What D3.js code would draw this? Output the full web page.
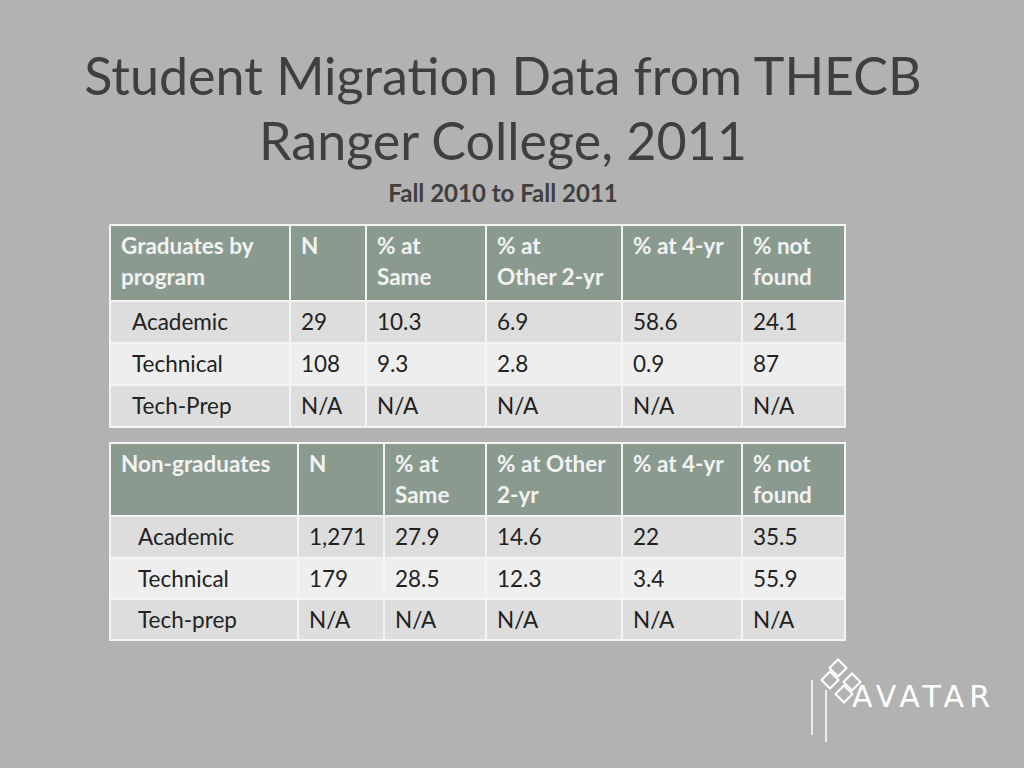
<!DOCTYPE html>
<html><head><meta charset="utf-8">
<script src="https://d3js.org/d3.v7.min.js"></script>
<style>body{margin:0;background:#b2b2b2;}svg{display:block;}</style>
</head><body>
<script>
const titleLines = ["Student Migration Data from THECB", "Ranger College, 2011"];
const subtitle = "Fall 2010 to Fall 2011";
const headers1 = [["Graduates by","program"],["N"],["% at","Same"],["%  at","Other 2-yr"],["% at 4-yr"],["% not","found"]];
const rows1 = [["Academic","29","10.3","6.9","58.6","24.1"],["Technical","108","9.3","2.8","0.9","87"],["Tech-Prep","N/A","N/A","N/A","N/A","N/A"]];
const headers2 = [["Non-graduates"],["N"],["% at","Same"],["% at Other","2-yr"],["% at 4-yr"],["% not","found"]];
const rows2 = [["Academic","1,271","27.9","14.6","22","35.5"],["Technical","179","28.5","12.3","3.4","55.9"],["Tech-prep","N/A","N/A","N/A","N/A","N/A"]];

const svg = d3.select("body").append("svg").attr("width",1024).attr("height",768);
const F = "Lato, 'Open Sans', sans-serif";
svg.selectAll("text.title").data(titleLines).enter().append("text")
  .attr("x",503).attr("y",(d,i)=>95+i*65).attr("text-anchor","middle")
  .attr("font-family",F).attr("font-size",52).attr("fill","#3f3f3f").text(d=>d);
svg.append("text").attr("x",503).attr("y",202).attr("text-anchor","middle")
  .attr("font-family",F).attr("font-weight","bold").attr("font-size",24).attr("fill","#3f3f3f").text(subtitle);

function table(headers, rows, colEdges, rowEdges, firstIndent){
  const g = svg.append("g");
  const rowBg = ["#8a9a8f","#dddddd","#eeeeee","#dddddd"];
  const all = [headers].concat(rows);
  all.forEach((row,ri)=>{
    const y0 = rowEdges[ri], y1 = rowEdges[ri+1];
    row.forEach((cell,ci)=>{
      const x0 = colEdges[ci], x1 = colEdges[ci+1];
      g.append("rect").attr("x",x0).attr("y",y0).attr("width",x1-x0).attr("height",y1-y0)
        .attr("fill",rowBg[ri]).attr("stroke","#f4f4f4").attr("stroke-width",2);
      const lines = Array.isArray(cell)?cell:[cell];
      const tx = x0 + 11 + (ci===0 && ri>0 ? firstIndent : 0);
      lines.forEach((ln,li)=>{
        g.append("text").attr("x",tx).attr("y", ri===0 ? y0+29+li*31 : (y0+y1)/2+8)
          .attr("font-family",F).attr("font-size",22.5)
          .attr("font-weight", ri===0?"bold":"normal")
          .attr("fill", ri===0?"#f2f2f2":"#222").text(ln);
      });
    });
  });
}
table(headers1, rows1, [110,290,366,486,622,742,845], [225,301,343,385,427], 11);
table(headers2, rows2, [110,298,384,486,622,742,845], [443,516,558,599,640], 17);

// logo
const lg = svg.append("g");
[[832,662],[846,676],[824,674],[838,688]].forEach(p=>{
  lg.append("rect").attr("x",p[0]).attr("y",p[1]).attr("width",12).attr("height",12)
    .attr("transform",`rotate(45 ${p[0]+6} ${p[1]+6})`).attr("fill","none").attr("stroke","#fff").attr("stroke-width",2);
});
lg.append("line").attr("x1",812).attr("y1",680).attr("x2",812).attr("y2",735).attr("stroke","#fff").attr("stroke-width",1.5);
lg.append("line").attr("x1",826).attr("y1",690).attr("x2",826).attr("y2",742).attr("stroke","#fff").attr("stroke-width",1.5);
svg.append("text").attr("x",852).attr("y",707).attr("font-family","'DejaVu Sans', sans-serif")
  .attr("font-size",30).attr("fill","#fff").attr("textLength",138).text("AVATAR");
</script>
</body></html>
